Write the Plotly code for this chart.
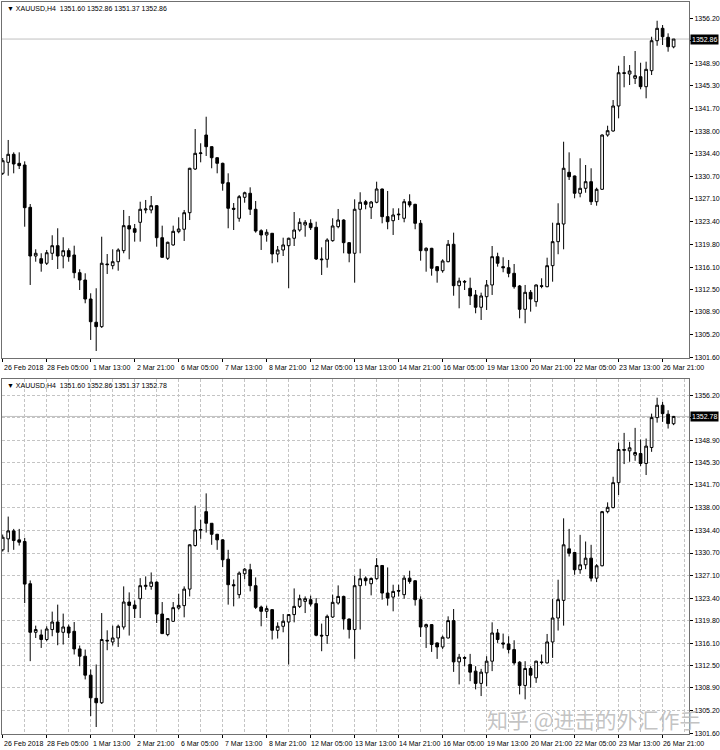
import plotly.graph_objects as go

symbol = "XAUUSD,H4"
bar_index = list(range(123))

open_ = [1331.22, 1332.99, 1334.28, 1332.83, 1332.56, 1325.74, 1317.89, 1317.46, 1316.72, 1318.33,
         1319.55, 1317.89, 1318.75, 1318.05, 1315.20, 1314.02, 1310.96, 1307.21, 1306.50, 1316.60,
         1316.33, 1316.97, 1318.75, 1322.78, 1322.29, 1323.32, 1325.31, 1325.31, 1326.00, 1320.84,
         1317.52, 1319.67, 1321.81, 1322.20, 1324.87, 1331.91, 1334.40, 1337.39, 1335.51, 1333.73,
         1332.83, 1329.71, 1325.58, 1323.97, 1327.35, 1328.00, 1325.42, 1321.97, 1321.28, 1321.55,
         1318.21, 1318.86, 1319.55, 1320.75, 1322.08, 1322.89, 1323.16, 1322.52, 1317.41, 1317.36,
         1320.36, 1322.62, 1323.69, 1320.04, 1318.33, 1325.42, 1326.64, 1325.74, 1326.55, 1328.69,
         1324.23, 1323.58, 1324.65, 1323.97, 1326.64, 1326.22, 1323.16, 1318.75, 1319.13, 1316.17,
         1315.52, 1316.97, 1319.78, 1313.11, 1313.80, 1312.69, 1311.61, 1309.63, 1311.33, 1313.22,
         1317.78, 1316.17, 1316.00, 1315.10, 1313.06, 1309.30, 1312.04, 1310.53, 1313.10, 1312.94,
         1316.33, 1320.20, 1323.05, 1331.38, 1330.79, 1328.00, 1328.80, 1329.87, 1326.64, 1328.64,
         1337.39, 1338.04, 1342.07, 1347.43, 1347.22, 1346.53, 1346.79, 1345.18, 1347.76, 1352.59,
         1354.59, 1353.14, 1351.60]
high = [1333.69, 1336.59, 1334.60, 1334.60, 1333.15, 1326.27, 1318.97, 1318.33, 1318.86, 1321.23,
        1322.36, 1320.91, 1319.13, 1319.55, 1315.75, 1315.10, 1311.88, 1312.69, 1321.00, 1318.21,
        1318.97, 1319.13, 1325.31, 1324.34, 1323.05, 1326.64, 1326.92, 1327.56, 1326.11, 1322.78,
        1320.20, 1322.78, 1324.13, 1325.31, 1332.10, 1338.36, 1336.06, 1340.34, 1335.55, 1333.80,
        1332.93, 1331.22, 1326.43, 1327.72, 1328.26, 1328.96, 1326.76, 1322.20, 1322.20, 1321.60,
        1319.50, 1320.84, 1320.84, 1324.98, 1323.97, 1323.69, 1323.81, 1323.42, 1319.29, 1320.75,
        1323.97, 1325.47, 1323.81, 1320.10, 1327.03, 1328.16, 1326.92, 1326.76, 1329.87, 1328.75,
        1328.37, 1325.58, 1325.58, 1327.08, 1327.84, 1326.30, 1323.69, 1319.29, 1319.20, 1316.25,
        1317.36, 1320.47, 1321.65, 1314.40, 1314.02, 1314.40, 1312.41, 1311.98, 1314.02, 1319.50,
        1318.42, 1317.68, 1317.25, 1316.60, 1313.22, 1313.22, 1312.41, 1313.30, 1314.30, 1317.62,
        1323.26, 1326.39, 1336.31, 1334.60, 1330.85, 1333.64, 1332.56, 1332.03, 1328.90, 1337.50,
        1338.89, 1343.03, 1348.56, 1350.12, 1348.67, 1350.93, 1349.04, 1349.21, 1353.23, 1355.81,
        1355.12, 1353.78, 1352.86]
low = [1330.95, 1330.83, 1331.22, 1331.91, 1322.61, 1313.22, 1316.97, 1315.36, 1316.44, 1317.25,
       1315.80, 1315.91, 1316.97, 1314.30, 1312.41, 1310.27, 1304.36, 1302.58, 1306.30, 1314.99,
       1315.75, 1315.52, 1318.33, 1317.36, 1320.20, 1320.20, 1324.77, 1324.77, 1319.39, 1317.60,
       1317.25, 1319.55, 1321.55, 1320.31, 1323.69, 1331.75, 1332.99, 1334.01, 1332.03, 1331.22,
       1328.42, 1322.36, 1322.08, 1323.42, 1326.48, 1324.50, 1321.65, 1318.86, 1320.20, 1316.72,
       1316.88, 1317.89, 1312.69, 1319.50, 1321.81, 1321.00, 1322.08, 1317.25, 1314.83, 1316.01,
       1320.20, 1322.36, 1318.33, 1316.88, 1313.59, 1318.33, 1325.42, 1323.86, 1326.39, 1323.16,
       1322.20, 1321.28, 1323.69, 1323.32, 1325.74, 1322.20, 1317.14, 1315.36, 1314.72, 1313.59,
       1315.20, 1316.88, 1311.49, 1309.46, 1312.41, 1309.99, 1308.66, 1307.58, 1309.19, 1311.61,
       1316.17, 1315.27, 1314.46, 1312.62, 1307.85, 1307.05, 1308.92, 1309.72, 1312.69, 1312.85,
       1313.75, 1318.17, 1318.97, 1330.14, 1327.19, 1327.35, 1328.09, 1326.11, 1326.00, 1328.55,
       1337.12, 1337.93, 1340.08, 1345.08, 1345.45, 1345.61, 1344.76, 1343.31, 1347.06, 1351.78,
       1351.90, 1350.82, 1351.37]
close = [1333.25, 1334.28, 1332.72, 1332.45, 1325.68, 1317.89, 1318.33, 1316.72, 1318.42, 1319.55,
         1317.89, 1318.75, 1317.78, 1315.20, 1314.02, 1310.96, 1307.30, 1306.50, 1316.72, 1316.50,
         1316.97, 1318.86, 1322.78, 1322.24, 1321.71, 1325.42, 1325.47, 1326.00, 1320.84, 1317.68,
         1320.10, 1321.87, 1322.24, 1324.87, 1332.03, 1334.44, 1334.50, 1335.51, 1333.73, 1332.83,
         1329.61, 1325.58, 1325.42, 1327.45, 1328.09, 1325.42, 1321.92, 1321.28, 1321.71, 1318.21,
         1318.86, 1319.67, 1320.75, 1322.08, 1323.32, 1323.32, 1322.45, 1317.41, 1317.30, 1320.47,
         1322.73, 1323.69, 1320.04, 1318.33, 1325.42, 1326.55, 1326.22, 1326.59, 1328.69, 1324.23,
         1323.42, 1324.50, 1324.55, 1326.64, 1326.11, 1323.16, 1318.75, 1319.13, 1315.91, 1315.52,
         1317.09, 1319.78, 1313.11, 1313.86, 1313.70, 1311.45, 1309.63, 1311.45, 1313.22, 1317.78,
         1316.72, 1316.00, 1315.10, 1312.94, 1309.30, 1312.04, 1310.96, 1313.22, 1313.00, 1316.33,
         1320.20, 1323.16, 1332.03, 1330.67, 1328.00, 1328.80, 1329.87, 1326.64, 1328.64, 1337.39,
         1338.09, 1342.07, 1347.43, 1347.33, 1347.71, 1346.95, 1345.18, 1347.98, 1352.59, 1354.59,
         1353.23, 1351.62, 1352.86]
close_last_bottom = 1352.78

date_tick_bars = [0, 8, 16, 24, 32, 40, 48, 56, 64, 72, 80, 88, 96, 104, 112, 120]
date_tick_labels = ["26 Feb 2018", "28 Feb 05:00", "1 Mar 13:00", "2 Mar 21:00", "6 Mar 05:00",
                    "7 Mar 13:00", "8 Mar 21:00", "12 Mar 05:00", "13 Mar 13:00", "14 Mar 21:00",
                    "16 Mar 05:00", "19 Mar 13:00", "20 Mar 21:00", "22 Mar 05:00", "23 Mar 13:00",
                    "26 Mar 21:00"]
price_ticks = [1356.20, 1352.55, 1348.90, 1345.30, 1341.70, 1338.00, 1334.40, 1330.70, 1327.10,
               1323.40, 1319.80, 1316.10, 1312.50, 1308.90, 1305.20, 1301.60]
price_tick_labels = ["1356.20", "", "1348.90", "1345.30", "1341.70", "1338.00", "1334.40", "1330.70",
                     "1327.10", "1323.40", "1319.80", "1316.10", "1312.50", "1308.90", "1305.20", "1301.60"]
watermark = "知乎 @进击的外汇作手"

close_bottom = close[:-1] + [close_last_bottom]

FONT = "Liberation Sans"
W, H = 720, 750
ML, MR, MT, MB = 2, 31, 2, 16
plot_h = H - MT - MB
top_dom = [(H - MB - 358) / plot_h, 1.0]
bot_dom = [0.0, (H - MB - 379) / plot_h]
x_range = [-0.13, 124.8]
y_range = [1301.45, 1358.83]

fig = go.Figure()

candle_style = dict(
    increasing=dict(line=dict(color="black", width=1), fillcolor="white"),
    decreasing=dict(line=dict(color="black", width=1), fillcolor="black"),
    whiskerwidth=0, showlegend=False, hoverinfo="skip",
)
fig.add_trace(go.Candlestick(x=bar_index, open=open_, high=high, low=low, close=close,
                             xaxis="x", yaxis="y", **candle_style))
fig.add_trace(go.Candlestick(x=bar_index, open=open_, high=high, low=low, close=close_bottom,
                             xaxis="x2", yaxis="y2", **candle_style))

axis_font = dict(family=FONT, size=7, color="black")
xcommon = dict(range=x_range, tickmode="array", tickvals=date_tick_bars, ticktext=date_tick_labels,
               ticks="outside", ticklen=3, tickcolor="black", tickfont=axis_font,
               showline=True, mirror=True, linecolor="#707070", linewidth=1,
               rangeslider=dict(visible=False), zeroline=False, fixedrange=True,
               ticklabelshift=21, automargin=False)
ycommon = dict(range=y_range, side="right", tickmode="array", tickvals=price_ticks,
               ticktext=price_tick_labels, ticks="outside", ticklen=3, tickcolor="black",
               tickfont=axis_font, showline=True, mirror=True, linecolor="#707070", linewidth=1,
               zeroline=False, fixedrange=True, automargin=False)

fig.update_layout(
    width=W, height=H, margin=dict(l=ML, r=MR, t=MT, b=MB, autoexpand=False),
    paper_bgcolor="white", plot_bgcolor="white",
    xaxis=dict(domain=[0, 1], anchor="y", showgrid=False, **xcommon),
    yaxis=dict(domain=top_dom, anchor="x", showgrid=False, **ycommon),
    xaxis2=dict(domain=[0, 1], anchor="y2", showgrid=True, gridcolor="#c4c4c4", griddash="3px,2px",
                minor=dict(tick0=0, dtick=4, showgrid=True, gridcolor="#c4c4c4", griddash="3px,2px"),
                **xcommon),
    yaxis2=dict(domain=bot_dom, anchor="x2", showgrid=True, gridcolor="#c4c4c4", griddash="3px,2px",
                **ycommon),
    showlegend=False,
)

# current price lines and price boxes
for yref, xref, price in [("y", "x", close[-1]), ("y2", "x2", close_bottom[-1])]:
    fig.add_shape(type="line", xref=f"{xref} domain", yref=yref, x0=0, x1=1, y0=price, y1=price,
                  line=dict(color="#c0c0c0", width=1), layer="below")
    fig.add_annotation(xref=f"{xref} domain", yref=yref, x=1, y=price, xanchor="left", yanchor="middle",
                       text=f"{price:.2f}", showarrow=False, bgcolor="black", borderpad=1,
                       font=dict(family=FONT, size=7, color="white"), xshift=1)

# panel titles
for yref, c in [("y", close[-1]), ("y2", close_bottom[-1])]:
    txt = (f"\u25bc {symbol}\u00a0\u00a0{open_[-1]:.2f} {high[-1]:.2f} {low[-1]:.2f} {c:.2f}")
    fig.add_annotation(xref="paper", yref=f"{yref} domain", x=0, y=1, xanchor="left", yanchor="top",
                       text=txt, showarrow=False, xshift=3, yshift=-1,
                       font=dict(family=FONT, size=7, color="black"))

# watermark
fig.add_annotation(xref="paper", yref="paper", x=(485 - ML) / (W - ML - MR), y=(H - MB - 719) / plot_h,
                   xanchor="left", yanchor="middle", text=watermark, showarrow=False,
                   font=dict(family="Noto Sans CJK SC", size=21, color="rgba(185,185,185,0.85)"))

fig.write_html("out.html", config={"displayModeBar": False},
               post_script="document.body.style.margin='0';document.body.style.overflow='hidden';")
